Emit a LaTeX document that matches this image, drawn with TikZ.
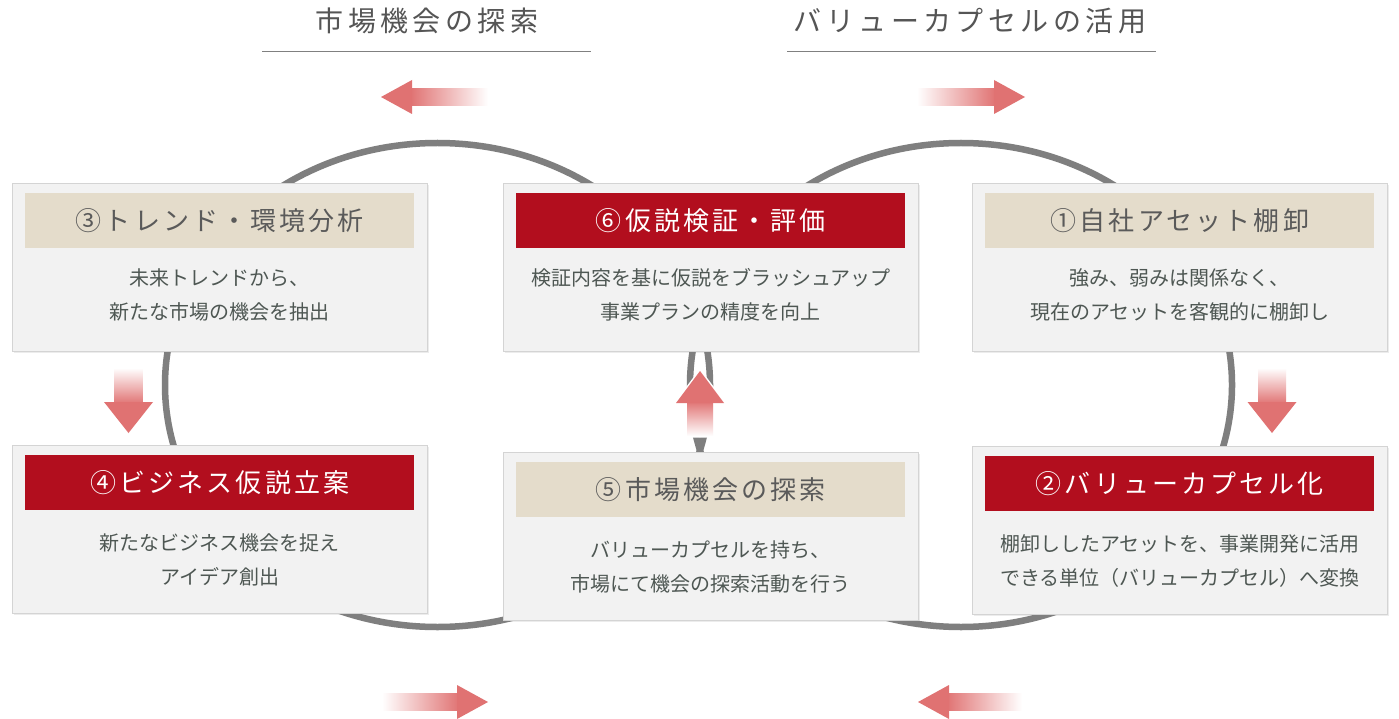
\documentclass[tikz,border=0pt]{standalone}
\usepackage{fontspec}
\setmainfont{Noto Sans CJK JP}
\usetikzlibrary{shadows,calc}
\definecolor{ringgray}{HTML}{7F7F7F}
\definecolor{boxfill}{HTML}{F2F2F2}
\definecolor{boxline}{HTML}{D4D4D4}
\definecolor{beige}{HTML}{E4DCCB}
\definecolor{deepred}{HTML}{B20E1E}
\definecolor{arrred}{HTML}{E07272}
\definecolor{bodytxt}{HTML}{4E5753}
\definecolor{headtxt}{HTML}{5A5A5A}
\definecolor{titletxt}{HTML}{555555}
\definecolor{ruleline}{HTML}{808080}
\begin{document}
\begin{tikzpicture}[x=1pt,y=-1pt,
 card/.style={draw=boxline, line width=0.8pt, fill=boxfill, minimum width=415pt, minimum height=168pt, anchor=north west, inner sep=0pt,
   drop shadow={shadow xshift=1.5pt, shadow yshift=-1.5pt, opacity=0.15}},
 band/.style={minimum width=389pt, minimum height=55pt, inner sep=0pt, anchor=north,
   font=\fontsize{26}{30}\selectfont\addfontfeature{LetterSpace=12}},
 bandlight/.style={band, fill=beige, text=headtxt},
 banddark/.style={band, fill=deepred, text=white},
 body/.style={anchor=center, align=center, text=bodytxt, font=\fontsize{20}{34}\selectfont, inner sep=0pt},
 heading/.style={text=titletxt, inner sep=0pt, font=\fontsize{28}{32}\selectfont\addfontfeature{LetterSpace=16}},
 ring/.style={draw=ringgray, line width=6.5pt},
 arrowfill/.style={fill=arrred}]
\useasboundingbox (0,0) rectangle (1399,719);
\fill[white] (0,0) rectangle (1399,719);

% titles
\node[heading] (t1) at (427,21) {市場機会の探索};
\node[heading] (t2) at (970,21) {バリューカプセルの活用};
\coordinate (u1a) at (262,52); \coordinate (u1b) at (591,52);
\coordinate (u2a) at (787,52); \coordinate (u2b) at (1156,52);
\draw[ruleline, line width=1pt] (u1a) -- (u1b);
\draw[ruleline, line width=1pt] (u2a) -- (u2b);

% rings
\draw[ring] (437.5,385) ellipse [x radius=272.5pt, y radius=242pt];
\draw[ring] (961,385) ellipse [x radius=271pt, y radius=242pt];

% cards
\node[card] (b3) at (12,183) {};
\node[card] (b6) at (503,183) {};
\node[card] (b1) at (972,183) {};
\node[card] (b4) at (12,445) {};
\node[card] (b5) at (503,452) {};
\node[card] (b2) at (972,446) {};

\node[bandlight] (h3) at ($(b3.north)+(0,10)$) {③トレンド・環境分析};
\node[banddark]  (h6) at ($(b6.north)+(0,10)$) {⑥仮説検証・評価};
\node[bandlight] (h1) at ($(b1.north)+(0,10)$) {①自社アセット棚卸};
\node[banddark]  (h4) at ($(b4.north)+(0,10)$) {④ビジネス仮説立案};
\node[bandlight] (h5) at ($(b5.north)+(0,10)$) {⑤市場機会の探索};
\node[banddark]  (h2) at ($(b2.north)+(0,10)$) {②バリューカプセル化};

\node[body] (x3) at ($(b3.north)+(0,112)$) {未来トレンドから、\\新たな市場の機会を抽出};
\node[body] (x6) at ($(b6.north)+(0,112)$) {検証内容を基に仮説をブラッシュアップ\\事業プランの精度を向上};
\node[body] (x1) at ($(b1.north)+(0,112)$) {強み、弱みは関係なく、\\現在のアセットを客観的に棚卸し};
\node[body] (x4) at ($(b4.north)+(0,115)$) {新たなビジネス機会を捉え\\アイデア創出};
\node[body] (x5) at ($(b5.north)+(0,115)$) {バリューカプセルを持ち、\\市場にて機会の探索活動を行う};
\node[body] (x2) at ($(b2.north)+(0,115)$) {棚卸ししたアセットを、事業開発に活用\\できる単位（バリューカプセル）へ変換};

% top arrows
\shade[left color=arrred, right color=white] (410,88.5) rectangle (488,105.5);
\fill[arrowfill] (381,97) -- (412,80) -- (412,114) -- cycle;
\shade[left color=white, right color=arrred] (917,88.5) rectangle (996,105.5);
\fill[arrowfill] (1025,97) -- (994,80) -- (994,114) -- cycle;

% bottom arrows
\shade[left color=white, right color=arrred] (382,693.5) rectangle (460,710.5);
\fill[arrowfill] (488,702) -- (457,685) -- (457,719) -- cycle;
\shade[left color=arrred, right color=white] (946,693.5) rectangle (1022,710.5);
\fill[arrowfill] (918,702) -- (949,685) -- (949,719) -- cycle;

% down arrows
\shade[top color=white, bottom color=arrred] (114.5,368) rectangle (142.5,404);
\fill[arrowfill] (128.5,433) -- (104,402) -- (153,402) -- cycle;
\shade[top color=white, bottom color=arrred] (1258,368) rectangle (1286,404);
\fill[arrowfill] (1272,433) -- (1247.5,402) -- (1296.5,402) -- cycle;

% middle up arrow
\filldraw[white, line width=3pt, line join=round] (700,371) -- (724,403) -- (713,403) -- (713,436) -- (687,436) -- (687,403) -- (676,403) -- cycle;
\shade[top color=arrred, bottom color=white] (687,401) rectangle (713,436);
\fill[arrowfill] (700,371) -- (724,403) -- (676,403) -- cycle;
\end{tikzpicture}
\end{document}
